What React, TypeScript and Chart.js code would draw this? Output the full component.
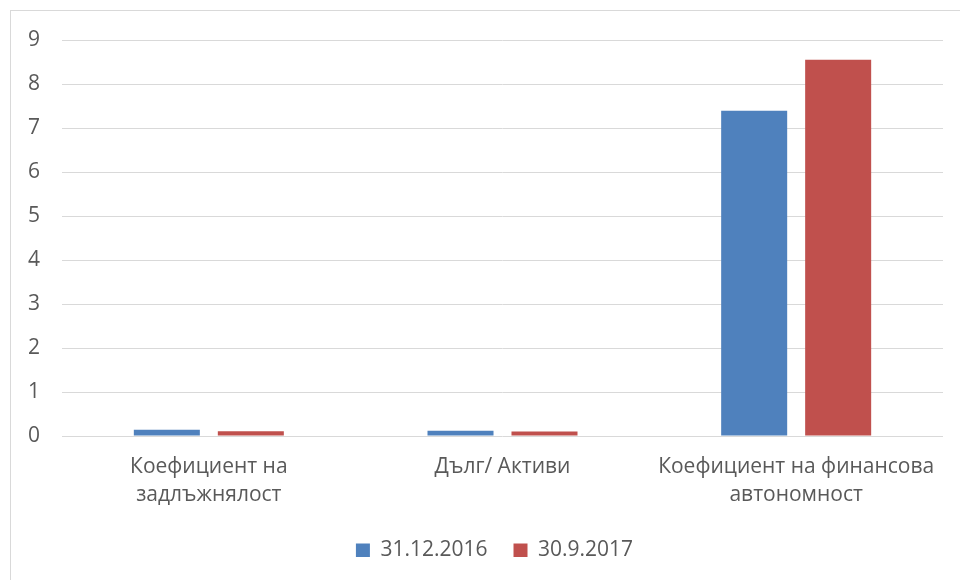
import React, { useEffect, useRef } from "react";
import { Chart, registerables } from "chart.js";

Chart.register(...registerables);

const categories: string[][] = [
  ["Коефициент на", "задлъжнялост"],
  ["Дълг/ Активи"],
  ["Коефициент на финансова", "автономност"],
];
const seriesNames = ["31.12.2016", "30.9.2017"];
const series2016 = [0.14, 0.12, 7.39];
const series2017 = [0.11, 0.1, 8.55];
const colors = ["#4F81BD", "#C0504D"];

const FONT = "'Open Sans', 'Noto Sans', sans-serif";
const TEXT = "#595959";
const GRID = "#D9D9D9";

const legendShift = {
  id: "legendShift",
  afterLayout(chart: any) {
    const l = chart.legend;
    if (!l) return;
    l.left += 23;
    l.right += 23;
    l.top -= 13;
    l.bottom -= 13;
  },
};

export default function App() {
  const ref = useRef<HTMLCanvasElement | null>(null);
  useEffect(() => {
    if (!ref.current) return;
    const chart = new Chart(ref.current, {
      type: "bar",
      plugins: [legendShift],
      data: {
        labels: categories,
        datasets: [
          {
            label: seriesNames[0],
            data: series2016,
            backgroundColor: colors[0],
            categoryPercentage: 0.572,
            barPercentage: 0.786,
          },
          {
            label: seriesNames[1],
            data: series2017,
            backgroundColor: colors[1],
            categoryPercentage: 0.572,
            barPercentage: 0.786,
          },
        ],
      },
      options: {
        responsive: false,
        animation: false,
        layout: { padding: { left: 0, right: 17, top: 40, bottom: 10 } },
        plugins: {
          tooltip: { enabled: false },
          legend: {
            position: "bottom",
            maxHeight: 43,
            labels: {
              font: { family: FONT, size: 21 },
              color: TEXT,
              boxWidth: 14,
              boxHeight: 14,
              padding: 26,
            },
          },
        },
        scales: {
          x: {
            grid: { display: false, drawTicks: false },
            border: { display: false },
            ticks: {
              font: { family: FONT, size: 21, lineHeight: "28px" },
              color: TEXT,
              padding: 17,
              maxRotation: 0,
              autoSkip: false,
            },
            afterFit: (s: any) => {
              s.height = 91;
            },
          },
          y: {
            min: 0,
            max: 9,
            grid: { color: GRID, lineWidth: 1, drawTicks: false },
            border: { display: false },
            ticks: {
              stepSize: 1,
              font: { family: FONT, size: 21 },
              color: TEXT,
              padding: 22,
            },
            afterFit: (s: any) => {
              s.width = 62;
            },
          },
        },
      },
    });
    return () => chart.destroy();
  }, []);
  return (
    <div style={{ position: "fixed", left: 0, top: 0, width: 960, height: 580, background: "#fff", overflow: "hidden" }}>
      <div
        style={{
          position: "absolute",
          left: 10,
          top: 10,
          width: 960,
          height: 600,
          borderTop: "1px solid #D9D9D9",
          borderLeft: "1px solid #D9D9D9",
        }}
      />
      <canvas ref={ref} width={960} height={580} style={{ position: "absolute", left: 0, top: 0 }} />
    </div>
  );
}
